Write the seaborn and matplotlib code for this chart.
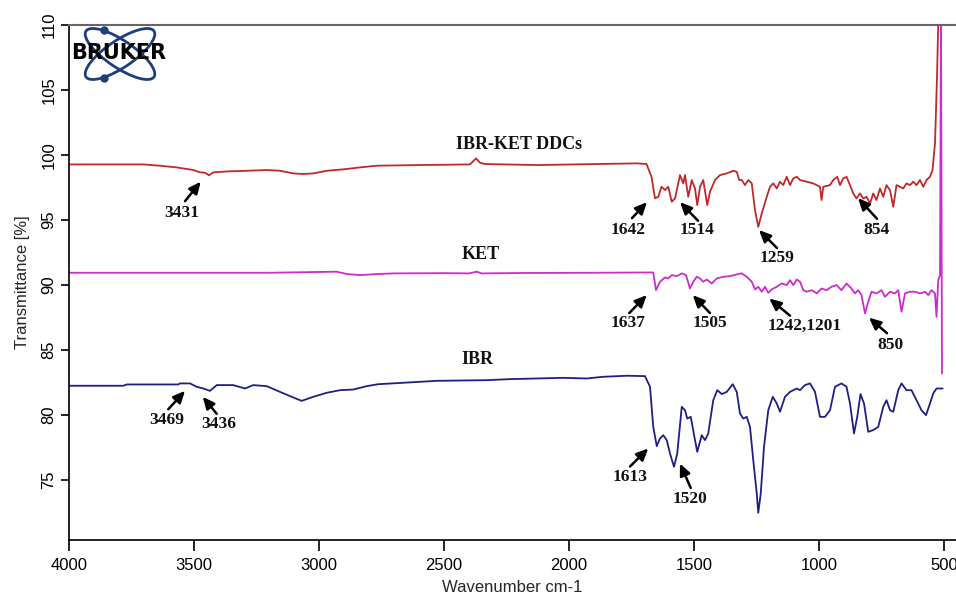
import numpy as np
import pandas as pd
import seaborn as sns
import matplotlib
matplotlib.use("Agg")
import matplotlib.pyplot as plt
from matplotlib.patches import Ellipse

# ---------------- data ----------------
ddc_wn = [4000, 3703, 3636, 3569, 3503, 3476, 3456, 3440, 3423, 3369, 3289, 3209, 3156, 3103, 3063,
          3023, 2969, 2903, 2836, 2769, 2700, 2596, 2396, 2372, 2356, 2336, 2129, 1889, 1729, 1690,
          1670, 1656, 1643, 1630, 1616, 1603, 1589, 1576, 1556, 1543, 1536, 1523, 1509, 1496, 1487,
          1476, 1463, 1447, 1436, 1416, 1396, 1369, 1343, 1329, 1319, 1309, 1296, 1283, 1269, 1256,
          1243, 1229, 1209, 1196, 1183, 1169, 1156, 1143, 1129, 1116, 1103, 1089, 1076, 1049, 1023,
          996, 990, 983, 956, 943, 927, 916, 903, 890, 876, 863, 850, 836, 823, 810, 796, 783, 770,
          756, 743, 730, 716, 703, 690, 676, 663, 650, 636, 623, 610, 596, 583, 570, 556, 546, 536,
          528, 522]
ddc_t = [99.28, 99.28, 99.18, 99.05, 98.85, 98.67, 98.64, 98.44, 98.67, 98.74, 98.79, 98.85, 98.79,
         98.59, 98.54, 98.59, 98.79, 98.90, 99.05, 99.18, 99.2, 99.23, 99.28, 99.74, 99.41, 99.31,
         99.23, 99.31, 99.36, 99.31, 98.33, 96.67, 96.79, 97.56, 97.31, 97.56, 96.41, 96.66, 98.46,
         97.82, 98.46, 96.79, 98.08, 97.43, 96.15, 97.56, 98.08, 96.15, 97.18, 98.08, 98.46, 98.59,
         98.79, 98.71, 98.08, 98.08, 97.69, 98.08, 97.82, 95.77, 94.48, 95.51, 96.79, 97.56, 97.82,
         97.43, 97.95, 97.69, 98.33, 97.69, 98.20, 98.33, 98.08, 97.95, 97.82, 97.56, 96.54, 97.56,
         97.69, 98.08, 98.33, 97.69, 98.20, 98.33, 97.69, 97.05, 96.66, 97.05, 96.66, 96.79, 96.28,
         97.05, 96.54, 97.43, 96.79, 97.69, 97.30, 96.02, 97.69, 97.56, 97.43, 97.82, 97.69, 97.95,
         97.69, 98.08, 97.56, 98.08, 98.33, 98.84, 100.9, 106.0, 111.0]

ket_wn = [4000, 3600, 3200, 2929, 2889, 2836, 2769, 2700, 2500, 2400, 2369, 2350, 2200, 1900, 1700,
          1663, 1652, 1636, 1616, 1603, 1589, 1569, 1549, 1532, 1516, 1503, 1489, 1476, 1463, 1449,
          1429, 1409, 1383, 1356, 1329, 1309, 1289, 1269, 1256, 1243, 1229, 1216, 1203, 1189, 1169,
          1149, 1129, 1116, 1103, 1089, 1076, 1063, 1049, 1029, 1009, 990, 970, 950, 930, 910, 890,
          870, 856, 843, 830, 816, 803, 790, 770, 750, 736, 716, 696, 683, 670, 656, 636, 616, 596,
          576, 563, 550, 536, 530, 523, 516, 512, 508]
ket_t = [90.95, 90.95, 90.95, 91.03, 90.85, 90.77, 90.85, 90.9, 90.92, 90.9, 91.03, 90.9, 90.93,
         90.95, 90.97, 90.97, 89.61, 90.25, 90.59, 90.51, 90.77, 90.69, 90.90, 90.77, 89.74, 90.26,
         90.64, 90.51, 90.26, 90.43, 90.13, 90.51, 90.64, 90.69, 90.82, 90.90, 90.64, 90.26, 89.67,
         89.87, 89.49, 89.87, 89.41, 89.67, 89.87, 90.13, 90.00, 90.38, 90.00, 90.43, 90.26, 89.61,
         89.49, 89.61, 89.36, 89.74, 89.61, 89.87, 90.00, 89.61, 90.13, 89.74, 89.36, 89.61, 89.23,
         87.82, 88.72, 89.49, 89.36, 89.61, 89.10, 89.49, 89.36, 89.61, 87.95, 89.36, 89.49, 89.49,
         89.36, 89.49, 89.23, 89.61, 89.36, 87.56, 90.38, 90.77, 111.0, 83.2]

ibr_wn = [4000, 3783, 3769, 3563, 3556, 3516, 3489, 3463, 3436, 3409, 3343, 3296, 3263, 3209, 3156,
          3103, 3069, 3023, 2969, 2916, 2863, 2809, 2763, 2663, 2529, 2329, 2236, 2023, 1929, 1863,
          1769, 1696, 1676, 1663, 1649, 1636, 1623, 1609, 1596, 1580, 1567, 1549, 1536, 1527, 1513,
          1496, 1487, 1469, 1456, 1443, 1423, 1407, 1389, 1369, 1345, 1329, 1316, 1303, 1289, 1276,
          1263, 1249, 1243, 1233, 1220, 1203, 1185, 1169, 1156, 1136, 1116, 1089, 1076, 1056, 1036,
          1016, 996, 976, 956, 936, 910, 890, 876, 860, 847, 834, 820, 803, 783, 763, 743, 730, 716,
          703, 683, 670, 650, 630, 610, 590, 572, 556, 543, 530, 505]
ibr_t = [82.26, 82.26, 82.36, 82.36, 82.44, 82.44, 82.18, 82.05, 81.87, 82.31, 82.31, 82.05, 82.31,
         82.23, 81.79, 81.36, 81.10, 81.41, 81.72, 81.92, 81.97, 82.23, 82.38, 82.49, 82.64, 82.69,
         82.77, 82.87, 82.82, 82.95, 83.03, 83.0, 82.18, 79.10, 77.62, 78.21, 78.46, 78.08, 77.05,
         76.03, 77.05, 80.64, 80.38, 79.74, 79.87, 78.08, 77.18, 78.46, 78.08, 78.59, 81.15, 81.92,
         81.62, 81.79, 82.38, 81.79, 80.13, 79.74, 79.87, 79.10, 76.54, 73.97, 72.49, 73.97, 77.56,
         80.38, 81.41, 80.90, 80.26, 81.41, 81.79, 82.05, 81.92, 82.31, 82.44, 81.79, 79.87, 79.87,
         80.38, 82.18, 82.44, 82.18, 80.90, 78.59, 79.87, 81.62, 80.90, 78.72, 78.85, 79.10, 80.64,
         81.15, 80.38, 80.26, 81.92, 82.44, 81.92, 81.92, 81.15, 80.38, 80.00, 80.90, 81.67, 82.05,
         82.05]

series_names = ["IBR-KET DDCs", "KET", "IBR"]
x_ticks = [4000, 3500, 3000, 2500, 2000, 1500, 1000, 500]
y_ticks = [75, 80, 85, 90, 95, 100, 105, 110]

peak_labels = ["3431", "1642", "1514", "1259", "854",
               "1637", "1505", "1242,1201", "850",
               "3469", "3436", "1613", "1520"]

# ---------------- layout / styling ----------------
label_pos = [(3549, 95.55), (1764, 94.25), (1488, 94.2), (1168, 92.05), (768, 94.25),
             (1763, 87.05), (1436, 87.05), (1056, 86.9), (716, 85.4),
             (3609, 79.65), (3403, 79.35), (1756, 75.25), (1516, 73.55)]
arrow_tail = [(3536, 96.45), (1748, 95.15), (1484, 94.95), (1168, 92.85), (768, 95.1),
              (1759, 87.85), (1436, 87.85), (1116, 87.65), (728, 86.3),
              (3603, 80.45), (3409, 80.1), (1756, 76.05), (1513, 74.4)]
arrow_tip = [(3473, 97.95), (1688, 96.38), (1556, 96.38), (1240, 94.23), (844, 96.69),
             (1689, 89.23), (1505, 89.23), (1199, 88.97), (800, 87.5),
             (3536, 81.87), (3465, 81.41), (1683, 77.44), (1556, 76.28)]
name_pos = [(2200, 100.8), (2352, 92.35), (2365, 84.3)]
colors = ["#c0282a", "#cc2ccc", "#1f1f85"]

sns.set_style("ticks")
plt.rcParams["font.family"] = ["Liberation Sans", "DejaVu Sans"]

df = pd.concat([
    pd.DataFrame({"wn": ddc_wn, "T": ddc_t, "sample": series_names[0]}),
    pd.DataFrame({"wn": ket_wn, "T": ket_t, "sample": series_names[1]}),
    pd.DataFrame({"wn": ibr_wn, "T": ibr_t, "sample": series_names[2]}),
], ignore_index=True)

fig = plt.figure(figsize=(9.56, 6.0), dpi=100)
ax = fig.add_axes([69 / 956, 60 / 600, 887 / 956, 515 / 600])

sns.lineplot(data=df, x="wn", y="T", hue="sample", palette=dict(zip(series_names, colors)),
             sort=False, estimator=None, legend=False, linewidth=1.3, ax=ax)

ax.set_xlim(4000, 452)
ax.set_ylim(70.4, 110)
ax.set_xticks(x_ticks)
ax.set_yticks(y_ticks)
ax.set_xticklabels([str(v) for v in x_ticks], fontsize=12)
ax.set_yticklabels([str(v) for v in y_ticks], fontsize=12, rotation=90, va="center")
ax.tick_params(axis="x", direction="out", length=8, width=1.2, pad=5, colors="black")
ax.tick_params(axis="y", direction="out", length=6, width=1.2, pad=3, colors="black")
ax.set_xlabel("Wavenumber cm-1", fontsize=12, labelpad=5)
ax.set_ylabel("Transmittance [%]", fontsize=12, labelpad=8)

for s in ["left", "bottom"]:
    ax.spines[s].set_color("black")
    ax.spines[s].set_linewidth(1.2)
ax.spines["top"].set_visible(True)
ax.spines["top"].set_color("#666666")
ax.spines["top"].set_linewidth(1.5)
ax.spines["right"].set_visible(False)

serif = ["Liberation Serif", "DejaVu Serif"]
for name, (xp, yp) in zip(series_names, name_pos):
    ax.text(xp, yp, name, ha="center", va="center", fontsize=13, fontweight="bold",
            family=serif, color="#111111")

for lab, (tx, ty), (sx, sy), (px, py) in zip(peak_labels, label_pos, arrow_tail, arrow_tip):
    ax.text(tx, ty, lab, ha="center", va="center", fontsize=12.5, fontweight="bold",
            family=serif, color="#111111")
    ax.annotate("", xy=(px, py), xytext=(sx, sy),
                arrowprops=dict(arrowstyle="-|>,head_length=0.7,head_width=0.32",
                                color="black", lw=1.8, shrinkA=0, shrinkB=0))

# Bruker logo
lax = fig.add_axes([66 / 956, 1 - 86 / 600, 110 / 956, 64 / 600])
lax.set_xlim(66, 176)
lax.set_ylim(86, 22)
lax.set_aspect("equal")
lax.axis("off")
for ang in (34, -34):
    lax.add_patch(Ellipse((120, 54), 82, 27, angle=ang, fill=False, ec="#1c3f7c", lw=2))
lax.plot([104, 104], [30, 78], "o", color="#1c3f7c", ms=5)
lax.text(119, 53, "BRUKER", ha="center", va="center", fontsize=15, fontweight="heavy",
         family=["DejaVu Sans"], color="black")

fig.savefig("out.png", dpi=100)
